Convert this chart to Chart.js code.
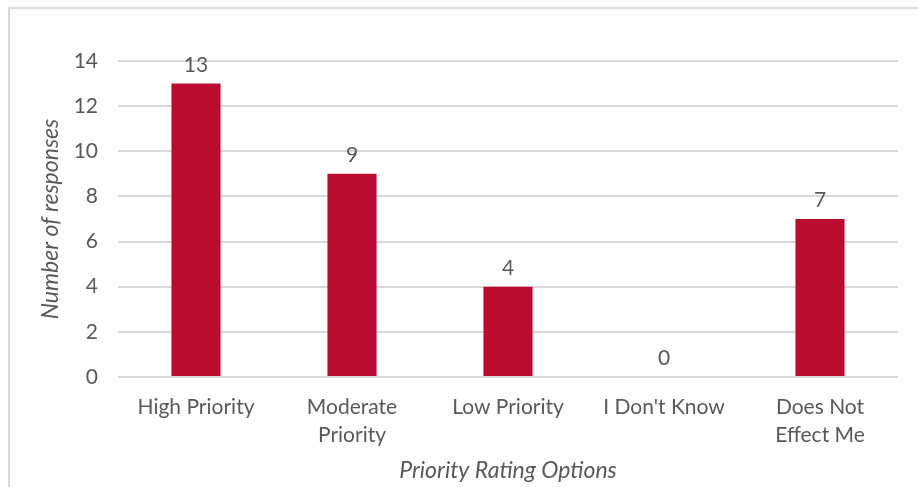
<!DOCTYPE html>
<html>
<head>
<meta charset="utf-8">
<script src="https://cdn.jsdelivr.net/npm/chart.js@4"></script>
<style>
  html, body { margin: 0; padding: 0; background: #fff; overflow: hidden; }
  #wrap { position: relative; width: 918px; height: 487px; }
  #frame { position: absolute; left: 8px; top: 7px; width: 940px; height: 520px; border: 2px solid #d9d9d9; box-sizing: border-box; }
  #myChart { position: absolute; left: 0; top: 0; }
</style>
</head>
<body>
<div id="wrap">
  <div id="frame"></div>
  <canvas id="myChart" width="918" height="487"></canvas>
</div>
<script>
const categories = [['High Priority'], ['Moderate', 'Priority'], ['Low Priority'], ["I Don't Know"], ['Does Not', 'Effect Me']];
const responses = [13, 9, 4, 0, 7];
const yTicks = [0, 2, 4, 6, 8, 10, 12, 14];

const textColor = '#595959';
const fontFamily = 'Lato, "Open Sans", sans-serif';

// draws the value above each bar
const valueLabels = {
    id: 'valueLabels',
    afterDatasetsDraw(chart) {
        const ctx = chart.ctx;
        const meta = chart.getDatasetMeta(0);
        ctx.save();
        ctx.fillStyle = textColor;
        ctx.font = '21px ' + fontFamily;
        ctx.textAlign = 'center';
        ctx.textBaseline = 'bottom';
        meta.data.forEach((bar, i) => {
            ctx.fillText(responses[i], bar.x, bar.y - 8);
        });
        ctx.restore();
    }
};

const ctx = document.getElementById('myChart');

new Chart(ctx, {
    type: 'bar',
    data: {
        labels: categories,
        datasets: [{
            label: 'Number of responses',
            data: responses,
            backgroundColor: '#ba0c2f',
            categoryPercentage: 1,
            barPercentage: 0.315
        }]
    },
    options: {
        responsive: false,
        animation: false,
        layout: {
            padding: { top: 61, right: 20, bottom: 3, left: 34 }
        },
        plugins: {
            legend: { display: false },
            tooltip: { enabled: false }
        },
        scales: {
            x: {
                afterFit(axis) {
                    axis.height = 107;
                },
                grid: { display: false, drawTicks: false },
                border: { display: false },
                ticks: {
                    color: textColor,
                    font: { family: fontFamily, size: 21, lineHeight: 1.33 },
                    padding: 16,
                    maxRotation: 0
                },
                title: {
                    display: true,
                    text: 'Priority Rating Options',
                    color: textColor,
                    font: { family: fontFamily, size: 23, style: 'italic' },
                    padding: { top: 4, bottom: 0 }
                }
            },
            y: {
                min: 0,
                max: 14,
                afterBuildTicks(axis) {
                    axis.ticks = yTicks.map(v => ({ value: v }));
                },
                afterFit(axis) {
                    axis.width = 84;
                },
                grid: { color: '#d9d9d9', lineWidth: 2, drawTicks: false },
                border: { display: false },
                ticks: {
                    color: textColor,
                    font: { family: fontFamily, size: 21 },
                    padding: 20
                },
                title: {
                    display: true,
                    text: 'Number of responses',
                    color: textColor,
                    font: { family: fontFamily, size: 23, style: 'italic' },
                    padding: { top: 3, bottom: 11 }
                }
            }
        }
    },
    plugins: [valueLabels]
});
</script>
</body>
</html>
